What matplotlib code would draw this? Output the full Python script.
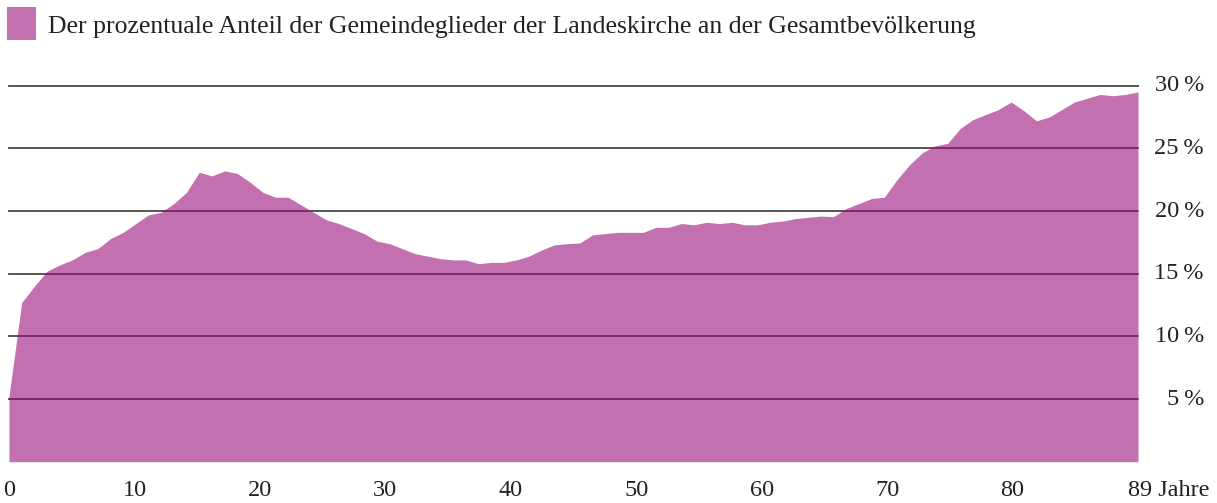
import numpy as np
import matplotlib
matplotlib.use("Agg")
import matplotlib.pyplot as plt
from matplotlib.patches import Rectangle

plt.rcParams['font.family'] = ['Liberation Serif', 'DejaVu Serif']

# Anteil der Gemeindeglieder an der Gesamtbevölkerung, nach Alter (Jahre 0..89)
jahre = np.arange(0, 90)
anteil = [5.2, 12.7, 14.0, 15.2, 15.7, 16.1, 16.7, 17.0, 17.8, 18.3,
          19.0, 19.7, 19.9, 20.6, 21.5, 23.1, 22.8, 23.2, 23.0, 22.3,
          21.5, 21.1, 21.1, 20.5, 19.9, 19.3, 19.0, 18.6, 18.2, 17.6,
          17.4, 17.0, 16.6, 16.4, 16.2, 16.1, 16.1, 15.8, 15.9, 15.9,
          16.1, 16.4, 16.9, 17.3, 17.4, 17.45, 18.1, 18.2, 18.3, 18.3,
          18.3, 18.7, 18.7, 19.0, 18.9, 19.1, 19.0, 19.1, 18.9, 18.9,
          19.1, 19.2, 19.4, 19.5, 19.6, 19.55, 20.2, 20.6, 21.0, 21.1,
          22.5, 23.7, 24.65, 25.2, 25.4, 26.6, 27.3, 27.7, 28.1, 28.7,
          28.0, 27.2, 27.5, 28.1, 28.7, 29.0, 29.3, 29.2, 29.3, 29.5]
x_ticks = [0, 10, 20, 30, 40, 50, 60, 70, 80]
y_ticks = [5, 10, 15, 20, 25, 30]
titel = "Der prozentuale Anteil der Gemeindeglieder der Landeskirche an der Gesamtbevölkerung"

farbe = "#c270b0"

fig = plt.figure(figsize=(12.17, 5.03), dpi=100)
W, H = 1217, 503
ax = fig.add_axes([9 / W, 41.3 / H, 1129 / W, 376 / H])
ax.set_xlim(0, 89)
ax.set_ylim(0, 30)
ax.axis("off")

# Gitterlinien (grau auf weiss)
for y in y_ticks:
    ax.plot([0, 89], [y, y], color="#555555", lw=1.4, zorder=1, clip_on=False)

poly = ax.fill_between(jahre, 0, anteil, color=farbe, lw=0, zorder=2)

# Gitterlinien innerhalb der Fläche (dunkelviolett)
for y in y_ticks:
    ln, = ax.plot([0, 89], [y, y], color="#7a2a6e", lw=1.4, zorder=3)
    ln.set_clip_path(poly.get_paths()[0], ax.transData)

# y-Beschriftung rechts
for y in y_ticks:
    ax.annotate(f"{y}\u2009%", xy=(1.0, y), xycoords=("axes fraction", "data"),
                xytext=(47.5, 0), textcoords="offset points",
                ha="right", va="center", fontsize=17.5, color="#222222")

# x-Beschriftung
for v in x_ticks:
    ax.annotate(str(v), xy=(v * 89 / 90, 0), xycoords="data",
                xytext=(0, -13), textcoords="offset points",
                ha="center", va="top", fontsize=17.5, color="#222222")
ax.annotate("89 Jahre", xy=(89, 0), xycoords="data",
            xytext=(-7, -13), textcoords="offset points",
            ha="left", va="top", fontsize=17.5, color="#222222")

# Legende
fig.add_artist(Rectangle((7 / W, 1 - 40 / H), 29 / W, 33 / H,
                         transform=fig.transFigure, color=farbe, lw=0))
fig.text(48 / W, 1 - 27 / H, titel, ha="left", va="center",
         fontsize=18.5, color="#222222")

fig.savefig("out.png", dpi=100)
